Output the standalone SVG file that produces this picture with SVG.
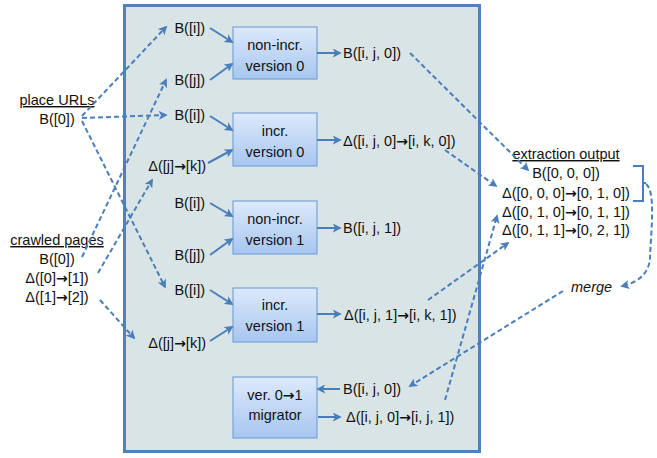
<svg xmlns="http://www.w3.org/2000/svg" width="657" height="458" viewBox="0 0 657 458">
<defs>
<linearGradient id="boxg" x1="0" y1="0" x2="0" y2="1">
<stop offset="0" stop-color="#dde9fb"/>
<stop offset="1" stop-color="#a7c6ef"/>
</linearGradient>
<marker id="ah" viewBox="0 0 10 10" refX="8" refY="5" markerWidth="9" markerHeight="9" markerUnits="userSpaceOnUse" orient="auto">
<path d="M0,0 L10,5 L0,10 L2.5,5 z" fill="#4a7ebb"/>
</marker>
</defs>
<style>
text{font-family:"Liberation Sans",Arial,sans-serif;font-size:14.5px;fill:#111}
.a{font-family:"DejaVu Sans",sans-serif;font-weight:bold;font-size:14px}
.node rect{fill:url(#boxg);stroke:#7ba3d6;stroke-width:1.2}
.c{text-anchor:middle}
.e{text-anchor:end}
.u{text-decoration:underline}
.solid line{stroke:#4a7ebb;stroke-width:2;marker-end:url(#ah)}
.dash line,.dash path{stroke:#4a7ebb;stroke-width:2;stroke-dasharray:5 3;fill:none;marker-end:url(#ah)}
</style>
<rect id="container" x="124.5" y="5.5" width="355" height="446" fill="#d9e4e7" stroke="#4f81bd" stroke-width="3"/>

<g id="nv0" class="node"><rect x="233" y="27" width="84" height="52"/><text class="c" x="275" y="50">non-incr.</text><text class="c" x="275" y="71">version 0</text></g>
<g id="iv0" class="node"><rect x="233" y="113" width="84" height="53"/><text class="c" x="275" y="136">incr.</text><text class="c" x="275" y="157">version 0</text></g>
<g id="nv1" class="node"><rect x="233" y="201" width="84" height="53"/><text class="c" x="275" y="224">non-incr.</text><text class="c" x="275" y="245">version 1</text></g>
<g id="iv1" class="node"><rect x="233" y="288" width="84" height="54"/><text class="c" x="275" y="310">incr.</text><text class="c" x="275" y="331">version 1</text></g>
<g id="mig" class="node"><rect x="233" y="377" width="84" height="61"/><text class="c" x="275" y="400">ver. 0<tspan class="a">→</tspan>1</text><text class="c" x="275" y="420">migrator</text></g>

<g id="inputs">
<text class="e" x="205" y="33">B([i])</text>
<text class="e" x="205" y="85">B([j])</text>
<text class="e" x="205" y="120">B([i])</text>
<text class="e" x="206" y="171">Δ([j]<tspan class="a">→</tspan>[k])</text>
<text class="e" x="205" y="208">B([i])</text>
<text class="e" x="205" y="260">B([j])</text>
<text class="e" x="205" y="295">B([i])</text>
<text class="e" x="206" y="348">Δ([j]<tspan class="a">→</tspan>[k])</text>
</g>
<g id="outputs">
<text x="343" y="58">B([i, j, 0])</text>
<text x="343" y="146">Δ([i, j, 0]<tspan class="a">→</tspan>[i, k, 0])</text>
<text x="343" y="233">B([i, j, 1])</text>
<text x="344" y="320">Δ([i, j, 1]<tspan class="a">→</tspan>[i, k, 1])</text>
<text x="343" y="394">B([i, j, 0])</text>
<text x="346" y="422">Δ([i, j, 0]<tspan class="a">→</tspan>[i, j, 1])</text>
</g>
<g id="place-urls">
<text class="c u" x="57" y="105">place URLs</text>
<text class="c" x="57" y="124">B([0])</text>
</g>
<g id="crawled-pages">
<text class="c u" x="57" y="245">crawled pages</text>
<text class="c" x="57" y="264">B([0])</text>
<text class="c" x="57" y="283">Δ([0]<tspan class="a">→</tspan>[1])</text>
<text class="c" x="57" y="302">Δ([1]<tspan class="a">→</tspan>[2])</text>
</g>
<g id="extraction-output">
<text class="c u" x="566" y="159">extraction output</text>
<text class="c" x="566" y="178">B([0, 0, 0])</text>
<text class="c" x="566" y="198">Δ([0, 0, 0]<tspan class="a">→</tspan>[0, 1, 0])</text>
<text class="c" x="566" y="217">Δ([0, 1, 0]<tspan class="a">→</tspan>[0, 1, 1])</text>
<text class="c" x="566" y="235">Δ([0, 1, 1]<tspan class="a">→</tspan>[0, 2, 1])</text>
<path d="M633,166 H643 V201 H633 M643,183 H646" fill="none" stroke="#4a7ebb" stroke-width="2"/>
</g>
<g id="merge"><text x="571" y="292" font-style="italic">merge</text></g>

<g id="connectors">
<g class="solid">
<line x1="210" y1="28" x2="232" y2="42"/>
<line x1="210" y1="80" x2="232" y2="64"/>
<line x1="210" y1="116" x2="232" y2="130"/>
<line x1="208" y1="163" x2="232" y2="150"/>
<line x1="317" y1="53" x2="340" y2="53"/>
<line x1="317" y1="140" x2="340" y2="140"/>
<line x1="210" y1="203" x2="232" y2="216"/>
<line x1="210" y1="255" x2="232" y2="239"/>
<line x1="210" y1="290" x2="232" y2="304"/>
<line x1="210" y1="341" x2="232" y2="327"/>
<line x1="317" y1="228" x2="340" y2="228"/>
<line x1="317" y1="314" x2="340" y2="314"/>
<line x1="340" y1="389" x2="318" y2="389"/>
<line x1="318" y1="417" x2="340" y2="417"/>
</g>
<g class="dash">
<line x1="82" y1="116" x2="166" y2="27"/>
<line x1="82" y1="118" x2="166" y2="115"/>
<line x1="82" y1="121" x2="165" y2="287"/>
<line x1="82" y1="257" x2="166" y2="80"/>
<line x1="98" y1="273" x2="152" y2="180"/>
<line x1="100" y1="300" x2="134" y2="338"/>
<line x1="410" y1="53" x2="528" y2="170"/>
<line x1="445" y1="150" x2="496" y2="186"/>
<line x1="428" y1="300" x2="508" y2="243"/>
<line x1="445" y1="400" x2="497" y2="216"/>
<line x1="563" y1="291" x2="410" y2="386"/>
<path d="M646,184 C656,192 651,230 650,258 C649,275 636,283 622,286"/>
</g>
</g>
</svg>
